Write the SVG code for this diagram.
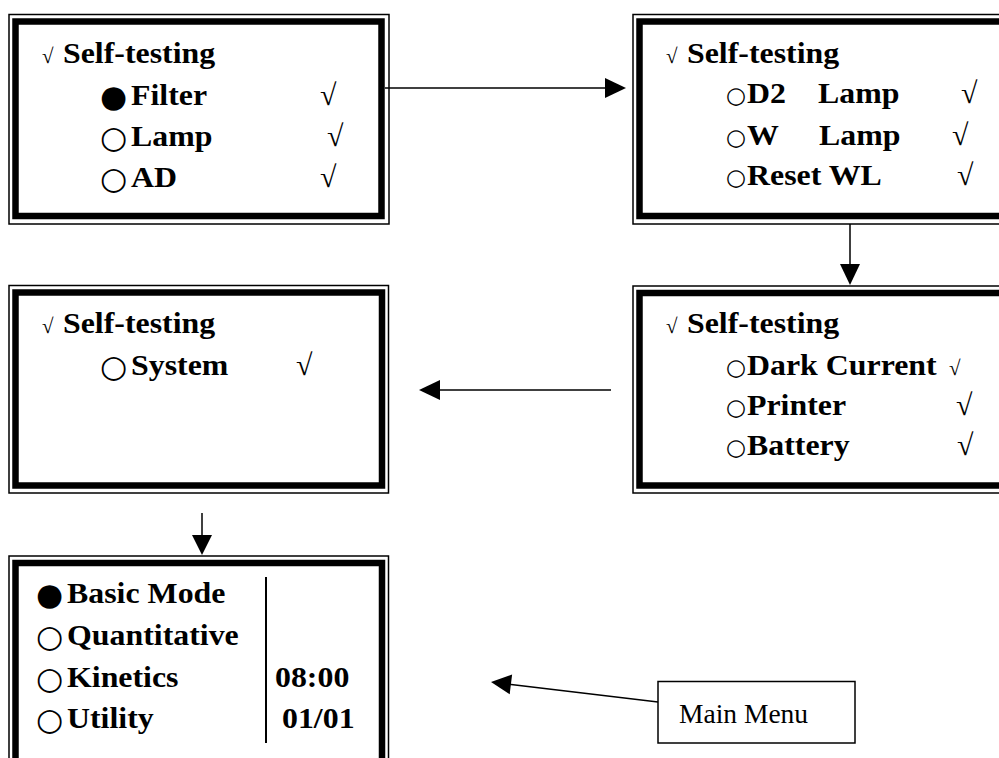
<svg xmlns="http://www.w3.org/2000/svg" width="999" height="758" viewBox="0 0 999 758">
<style>
.fo{fill:none;stroke:#000;stroke-width:1.5}
.fi{fill:none;stroke:#000;stroke-width:6.5}
.b{font-family:"Liberation Serif","Times New Roman",serif;font-weight:bold;font-size:30.5px;fill:#000}
.ck{font-family:"Liberation Serif","Times New Roman",serif;font-size:30px;fill:#000}
.cks{font-family:"Liberation Serif","Times New Roman",serif;font-size:21px;fill:#000}
.dot{font-family:"DejaVu Sans",sans-serif;font-size:31px;fill:#000}
.dots{font-family:"DejaVu Sans",sans-serif;font-size:23px;fill:#000}
.mm{font-family:"Liberation Serif","Times New Roman",serif;font-size:27.5px;fill:#000}
.con{stroke:#000;stroke-width:1.5;fill:none}
.head{fill:#000;stroke:none}
</style>
<rect width="999" height="758" fill="#fff"/>

<g id="node-selftest-1">
<rect class="fo" x="9" y="14.5" width="380" height="209.5"/>
<rect class="fi" x="15.5" y="21.5" width="366" height="194.5"/>
<text class="cks" x="42" y="63">√</text>
<text class="b" transform="translate(63 63) scale(1.045 1)">Self-testing</text>
<text class="dot" x="100" y="107">●</text>
<text class="b" transform="translate(131 105) scale(1.045 1)">Filter</text>
<text class="ck" x="320" y="105">√</text>
<text class="dot" x="100" y="148">○</text>
<text class="b" transform="translate(131 146) scale(1.045 1)">Lamp</text>
<text class="ck" x="327" y="146">√</text>
<text class="dot" x="100" y="189">○</text>
<text class="b" transform="translate(131 187) scale(1.045 1)">AD</text>
<text class="ck" x="320" y="187">√</text>
</g>

<g id="node-selftest-2">
<rect class="fo" x="633" y="14.5" width="390" height="209.5"/>
<rect class="fi" x="639.5" y="21.5" width="380" height="194.5"/>
<text class="cks" x="666" y="63">√</text>
<text class="b" transform="translate(687 63) scale(1.045 1)">Self-testing</text>
<text class="dots" x="726" y="103">○</text>
<text class="b" transform="translate(747 103) scale(1.045 1)">D2</text>
<text class="b" transform="translate(818 103) scale(1.045 1)">Lamp</text>
<text class="ck" x="961" y="103">√</text>
<text class="dots" x="726" y="145">○</text>
<text class="b" transform="translate(747 145) scale(1.045 1)">W</text>
<text class="b" transform="translate(819 145) scale(1.045 1)">Lamp</text>
<text class="ck" x="952" y="145">√</text>
<text class="dots" x="726" y="185">○</text>
<text class="b" transform="translate(747 185) scale(1.045 1)">Reset WL</text>
<text class="ck" x="957" y="185">√</text>
</g>

<g id="node-selftest-3">
<rect class="fo" x="633" y="286" width="390" height="207"/>
<rect class="fi" x="639.5" y="293" width="380" height="192.5"/>
<text class="cks" x="666" y="333">√</text>
<text class="b" transform="translate(687 333) scale(1.045 1)">Self-testing</text>
<text class="dots" x="726" y="375">○</text>
<text class="b" transform="translate(747 375) scale(1.045 1)">Dark Current</text>
<text class="cks" x="949" y="375">√</text>
<text class="dots" x="726" y="415">○</text>
<text class="b" transform="translate(747 415) scale(1.045 1)">Printer</text>
<text class="ck" x="956" y="415">√</text>
<text class="dots" x="726" y="455">○</text>
<text class="b" transform="translate(747 455) scale(1.045 1)">Battery</text>
<text class="ck" x="957" y="455">√</text>
</g>

<g id="node-selftest-4">
<rect class="fo" x="9" y="285.5" width="379.5" height="207.5"/>
<rect class="fi" x="15.5" y="292.5" width="366.5" height="193"/>
<text class="cks" x="42" y="333">√</text>
<text class="b" transform="translate(63 333) scale(1.045 1)">Self-testing</text>
<text class="dot" x="100" y="377">○</text>
<text class="b" transform="translate(131 375) scale(1.045 1)">System</text>
<text class="ck" x="296" y="375">√</text>
</g>

<g id="node-main-menu-screen">
<rect class="fo" x="9" y="556" width="379.5" height="230"/>
<rect class="fi" x="15.5" y="563" width="366.5" height="220"/>
<text class="dot" x="36" y="605">●</text>
<text class="b" transform="translate(67 603) scale(1.045 1)">Basic Mode</text>
<text class="dot" x="36" y="647">○</text>
<text class="b" transform="translate(67 645) scale(1.045 1)">Quantitative</text>
<text class="dot" x="36" y="689">○</text>
<text class="b" transform="translate(67 687) scale(1.045 1)">Kinetics</text>
<text class="dot" x="36" y="730">○</text>
<text class="b" transform="translate(67 728) scale(1.045 1)">Utility</text>
<line x1="266" y1="577" x2="266" y2="743" stroke="#000" stroke-width="2"/>
<text class="b" transform="translate(275 687) scale(1.045 1)">08:00</text>
<text class="b" transform="translate(282 728) scale(1.045 1)">01/01</text>
</g>

<g id="node-main-menu-label">
<rect x="658" y="681.5" width="197" height="61.5" fill="#fff" stroke="#000" stroke-width="1.5"/>
<text class="mm" x="679" y="723">Main Menu</text>
</g>

<g id="connectors">
<line class="con" x1="385" y1="88" x2="607" y2="88"/>
<polygon class="head" points="626,88 605,78 605,98"/>
<line class="con" x1="850" y1="224" x2="850" y2="266"/>
<polygon class="head" points="850,285 840,264 860,264"/>
<line class="con" x1="611" y1="390" x2="438" y2="390"/>
<polygon class="head" points="419,390 440,380 440,400"/>
<line class="con" x1="202" y1="513" x2="202" y2="536"/>
<polygon class="head" points="202,555 192,535 212,535"/>
<line class="con" x1="658" y1="702" x2="509" y2="684.2"/>
<polygon class="head" points="491,682 509.7,694.3 512.1,674.5"/>
</g>
</svg>
